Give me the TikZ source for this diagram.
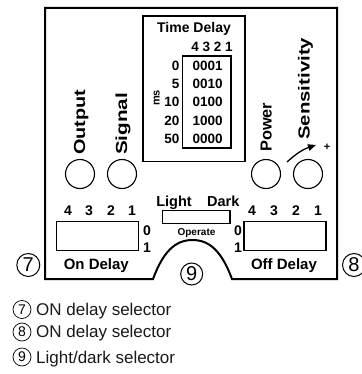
\documentclass[tikz,border=0pt]{standalone}
\usepackage{fontspec}
\setmainfont{Liberation Sans}
\usepackage{graphicx}
\usetikzlibrary{arrows.meta}
\newcommand{\myfs}[1]{\fontsize{#1}{#1}\selectfont}
\begin{document}
\begin{tikzpicture}[x=1pt,y=-1pt,
  fb/.style={font=\bfseries\myfs{#1}},
  fr/.style={font=\myfs{#1}},
  lbl/.style={inner sep=0pt, anchor=base},
  rlbl/.style={inner sep=0pt, rotate=90, anchor=base west},
  led/.style={circle, draw, line width=1.1pt, minimum size=29pt, inner sep=0pt},
  num/.style={circle, draw, line width=1pt, minimum size=23pt, inner sep=0pt, font=\myfs{20}},
  lnum/.style={circle, draw, line width=0.7pt, minimum size=18pt, inner sep=0pt, font=\myfs{14}},
  boxline/.style={line width=1.4pt},
  legend/.style={inner sep=0pt, anchor=base west, font=\myfs{17}, text=black!90}
]
\useasboundingbox (0,0) rectangle (361,374);

% outer frame with the arch
\draw[line width=2pt, line join=miter]
  (153,279) -- (45,279) -- (45,8) -- (337,8) -- (337,279) -- (232,279)
  .. controls (222,252) and (210,240) .. (192.5,240)
  .. controls (175,240) and (163,252) .. (153,279) -- cycle;

% time delay table
\draw[boxline] (143,16) rectangle (245,161.5);
\draw[line width=1.3pt] (182.7,56) rectangle (231,148);
\node[lbl, fb=14] (td) at (194,32.7) {Time Delay};
\node[lbl, fb=13.5] (tdbits) at (212,51.7) {4 3 2 1};
\node[lbl, fb=13.5] (r1) at (207.6,71) {0001};
\node[lbl, fb=13.5] (r2) at (207.6,89) {0010};
\node[lbl, fb=13.5] (r3) at (207.6,107) {0100};
\node[lbl, fb=13.5] (r4) at (207.6,125.7) {1000};
\node[lbl, fb=13.5] (r5) at (207.6,143.7) {0000};
\node[lbl, fb=13.5, anchor=base east] (v1) at (179.5,71) {0};
\node[lbl, fb=13.5, anchor=base east] (v2) at (179.5,89) {5};
\node[lbl, fb=13.5, anchor=base east] (v3) at (179.5,107) {10};
\node[lbl, fb=13.5, anchor=base east] (v4) at (179.5,125.7) {20};
\node[lbl, fb=13.5, anchor=base east] (v5) at (179.5,143.7) {50};
\node[inner sep=0pt, rotate=90, fb=11] (ms) at (156.7,98) {ms};

% vertical labels
\node[rlbl, fb=16] (output) at (85,155) {\resizebox{65pt}{\height}{Output}};
\node[rlbl, fb=16] (signal) at (127,155) {\resizebox{62pt}{\height}{Signal}};
\node[rlbl, fb=16] (power) at (271.5,152) {\resizebox{49pt}{\height}{Power}};
\node[rlbl, fb=16] (sens) at (309.5,140) {\resizebox{102pt}{\height}{Sensitivity}};

% LEDs / potentiometer
\node[led] (cout) at (80,174) {};
\node[led] (csig) at (122,174) {};
\node[led] (cpow) at (266,174) {};
\node[led] (csen) at (308,174) {};
\coordinate (as) at (287,162);
\coordinate (ae) at (316,145);
\draw[line width=1.3pt, -{Triangle[length=8pt,width=6.5pt]}] (as) to[bend left=12] (ae);
\node[fb=11, inner sep=0pt] (plus) at (327,147) {+};

% light / dark selector
\node[lbl, fb=14.5] (light) at (174,206.7) {Light};
\node[lbl, fb=14.5] (dark) at (223.3,206.7) {Dark};
\draw[line width=1.2pt] (162.7,210.7) rectangle (230,223.3);
\node[lbl, fb=10] (operate) at (196.5,235.8) {Operate};

% on delay switch
\draw[boxline] (56.7,221.7) rectangle (138.3,250.7);
\node[lbl, fb=14] (on4) at (68,215.7) {4};
\node[lbl, fb=14] (on3) at (89,215.7) {3};
\node[lbl, fb=14] (on2) at (111,215.7) {2};
\node[lbl, fb=14] (on1) at (132,215.7) {1};
\node[lbl, fb=14] (on0v) at (147,235) {0};
\node[lbl, fb=14] (on1v) at (147,252.7) {1};
\node[lbl, fb=15] (ondelay) at (96.3,269.3) {On Delay};

% off delay switch
\draw[boxline] (244,221.7) rectangle (326,250.7);
\node[lbl, fb=14] (off4) at (252,215.7) {4};
\node[lbl, fb=14] (off3) at (274,215.7) {3};
\node[lbl, fb=14] (off2) at (296,215.7) {2};
\node[lbl, fb=14] (off1) at (318,215.7) {1};
\node[lbl, fb=14] (off0v) at (238,235) {0};
\node[lbl, fb=14] (off1v) at (238,252.7) {1};
\node[lbl, fb=15] (offdelay) at (284,269.3) {Off Delay};

% circled numbers
\node[num] (n7) at (28.3,265) {7};
\node[num] (n8) at (354,265) {8};
\node[num, minimum size=22pt] (n9) at (191.7,274) {9};

% legend
\node[lnum] (l7) at (22,309.5) {7};
\node[legend] (t7) at (36,315) {ON delay selector};
\node[lnum] (l8) at (22,332) {8};
\node[legend] (t8) at (36,337.5) {ON delay selector};
\node[lnum] (l9) at (22,357) {9};
\node[legend] (t9) at (36,363) {Light/dark selector};
\end{tikzpicture}
\end{document}
